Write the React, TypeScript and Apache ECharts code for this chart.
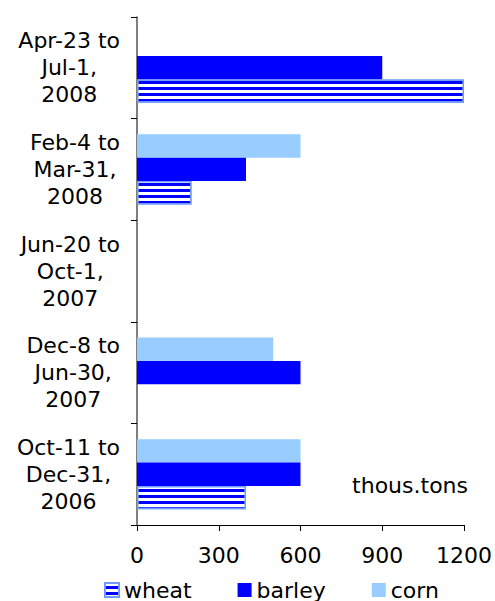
import React, { useEffect, useRef } from "react";
import * as echarts from "echarts";

const categories = [
  "Oct-11 to\nDec-31,\n2006",
  "Dec-8 to\nJun-30,\n2007",
  "Jun-20 to\nOct-1,\n2007",
  "Feb-4 to\nMar-31,\n2008",
  "Apr-23 to\nJul-1,\n2008",
];
const wheat: (number | null)[] = [400, null, null, 200, 1200];
const barley: (number | null)[] = [600, 600, null, 400, 900];
const corn: (number | null)[] = [600, 500, null, 600, null];
const xTicks = { min: 0, max: 1200, interval: 300 };
const legendNames = ["wheat", "barley", "corn"];
const unitLabel = "thous.tons";

const FONT = "DejaVu Sans";

export default function App() {
  const ref = useRef<HTMLDivElement>(null);
  useEffect(() => {
    document.body.style.margin = "0";
    if (!ref.current) return;
    const chart = echarts.init(ref.current, undefined, { renderer: "svg" });
    chart.setOption({
      animation: false,
      textStyle: { fontFamily: FONT },
      grid: { left: 137, right: 30, top: 17, bottom: 76, containLabel: false },
      xAxis: {
        type: "value",
        min: xTicks.min,
        max: xTicks.max,
        interval: xTicks.interval,
        axisLine: { show: true, lineStyle: { color: "#000", width: 1 } },
        axisTick: { show: true, length: 6, lineStyle: { color: "#000" } },
        splitLine: { show: false },
        axisLabel: {
          color: "#000",
          fontSize: 22,
          fontFamily: FONT,
          margin: 19,
          formatter: (v: number) => String(v),
        },
      },
      yAxis: {
        type: "category",
        data: categories,
        axisLine: { show: true, lineStyle: { color: "#555", width: 1.5 } },
        axisTick: { show: true, length: 6, lineStyle: { color: "#000" } },
        axisLabel: {
          color: "#000",
          align: "right",
          margin: 17,
          formatter: (v: string) =>
            v
              .split("\n")
              .map((l) => `{c|${l}}`)
              .join("\n"),
          rich: {
            c: { align: "center", fontSize: 22, lineHeight: 27, fontFamily: FONT, color: "#000" },
          },
        },
      },
      legend: {
        left: 104,
        top: 579,
        padding: 0,
        itemWidth: 14,
        itemHeight: 14,
        itemGap: 46,
        icon: "rect",
        textStyle: { fontSize: 22, fontFamily: FONT, color: "#000" },
        data: legendNames,
      },
      graphic: [
        {
          type: "text",
          right: 27,
          top: 474,
          style: { text: unitLabel, font: `22px "${FONT}"`, fill: "#000" },
        },
      ],
      series: [
        {
          name: "corn",
          type: "bar",
          data: corn,
          barGap: "0%",
          barCategoryGap: "31%",
          itemStyle: { color: "#99ccff" },
        },
        {
          name: "barley",
          type: "bar",
          data: barley,
          barGap: "0%",
          barCategoryGap: "31%",
          itemStyle: { color: "#0000ff" },
        },
        {
          name: "wheat",
          type: "bar",
          data: wheat,
          barGap: "0%",
          barCategoryGap: "31%",
          itemStyle: {
            color: "#0000ff",
            borderColor: "#6f9cff",
            borderWidth: 1.5,
            decal: {
              symbol: "rect",
              symbolSize: 1,
              color: "#ffffff",
              dashArrayX: [1, 0],
              dashArrayY: [3, 3],
              rotation: 0,
            },
          },
        },
      ],
    });
    return () => chart.dispose();
  }, []);
  return <div ref={ref} style={{ width: 495, height: 601 }} />;
}
